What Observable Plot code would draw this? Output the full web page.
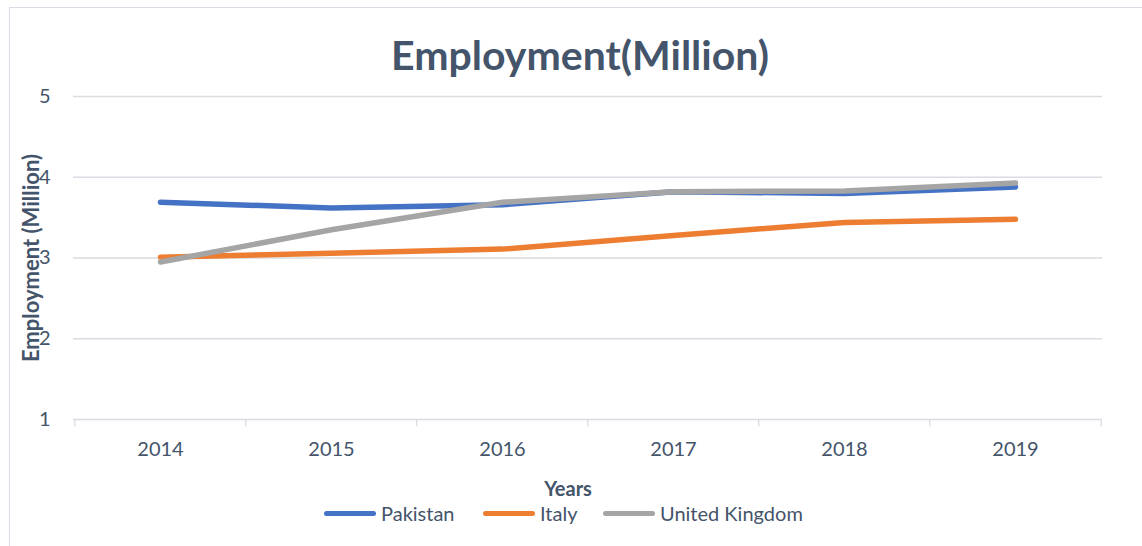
<!DOCTYPE html>
<html>
<head>
<meta charset="utf-8">
<script src="https://cdn.jsdelivr.net/npm/d3@7"></script>
<script src="https://cdn.jsdelivr.net/npm/@observablehq/plot@0.6"></script>
<style>
  html, body { margin: 0; padding: 0; background: #fff; }
  #chart { position: relative; width: 1142px; height: 546px; overflow: hidden; font-family: Lato, "Open Sans", sans-serif; color: #44546A; }
  #frame { position: absolute; left: 9px; top: 7px; width: 1200px; height: 600px; border: 1px solid #D9DEE6; box-sizing: border-box; }
  #title { position: absolute; left: 0; width: 1160px; top: 30px; text-align: center; font-weight: 700; font-size: 41px; line-height: 50px; }
  #ytitle { position: absolute; left: 30px; top: 258px; transform: translate(-50%, -50%) rotate(-90deg); font-weight: 700; font-size: 22px; white-space: nowrap; }
  #xtitle { position: absolute; left: 568px; top: 488px; transform: translate(-50%, -50%); font-weight: 700; font-size: 20px; }
  #legend { position: absolute; top: 502px; left: 0; width: 100%; height: 24px; }
  .li { position: absolute; display: flex; align-items: center; font-size: 20px; line-height: 22px; }
  .sw { width: 52px; height: 5px; border-radius: 3px; margin-right: 5px; }
  svg { position: absolute; left: 0; top: 0; }
</style>
</head>
<body>
<div id="chart">
  <div id="frame"></div>
  <div id="title">Employment(Million)</div>
  <div id="ytitle">Employment (Million)</div>
  <div id="xtitle">Years</div>
  <div id="legend"></div>
</div>
<script>
const years = ["2014", "2015", "2016", "2017", "2018", "2019"];
const seriesNames = ["Pakistan", "Italy", "United Kingdom"];
const pakistan = [3.69, 3.62, 3.66, 3.82, 3.80, 3.88];
const italy = [3.01, 3.06, 3.11, 3.28, 3.44, 3.48];
const unitedKingdom = [2.95, 3.35, 3.69, 3.82, 3.83, 3.93];
const colors = ["#4472C4", "#ED7D31", "#A5A5A5"];
const yTicks = [1, 2, 3, 4, 5];

const seriesValues = [pakistan, italy, unitedKingdom];
const data = seriesNames.flatMap((name, s) =>
  years.map((year, i) => ({ series: name, year, value: seriesValues[s][i] }))
);

const W = 1142, H = 546;
const mL = 73, mR = 40, mT = 96, mB = 127;
const step = (W - mL - mR) / years.length;
const gridColor = "#D9DCE1";
const textColor = "#44546A";

const plot = Plot.plot({
  width: W,
  height: H,
  marginLeft: mL,
  marginRight: mR,
  marginTop: mT,
  marginBottom: mB,
  style: { fontFamily: "Lato, 'Open Sans', sans-serif", fontSize: "20px", background: "transparent", color: textColor },
  x: { type: "point", domain: years, padding: 0.5, label: null },
  y: { domain: [1, 5], label: null },
  color: { domain: seriesNames, range: colors },
  marks: [
    Plot.ruleY(yTicks, { stroke: gridColor, strokeWidth: 1.3 }),
    // category boundary tick marks below the axis
    Plot.ruleX(years, { x: d => d, y1: 1, y2: 0.91, dx: -step / 2, stroke: gridColor, strokeWidth: 1.3 }),
    Plot.ruleX(years.slice(-1), { x: d => d, y1: 1, y2: 0.91, dx: step / 2, stroke: gridColor, strokeWidth: 1.3 }),
    Plot.axisY(yTicks, { tickSize: 0, tickPadding: 23, fontSize: 20, fill: textColor, label: null, tickFormat: d3.format("d") }),
    Plot.axisX(years, { tickSize: 0, tickPadding: 22, fontSize: 20, fill: textColor, label: null }),
    Plot.line(data, {
      x: "year", y: "value", z: "series", stroke: "series",
      strokeWidth: 5.5, strokeLinecap: "round", strokeLinejoin: "round"
    })
  ]
});
document.getElementById("chart").appendChild(plot);

// legend
const legend = document.getElementById("legend");
const legendLeft = [324, 483, 603];
seriesNames.forEach((name, i) => {
  const item = document.createElement("div");
  item.className = "li";
  item.style.left = legendLeft[i] + "px";
  const sw = document.createElement("div");
  sw.className = "sw";
  sw.style.background = colors[i];
  const t = document.createElement("span");
  t.textContent = name;
  item.appendChild(sw);
  item.appendChild(t);
  legend.appendChild(item);
});
</script>
</body>
</html>
